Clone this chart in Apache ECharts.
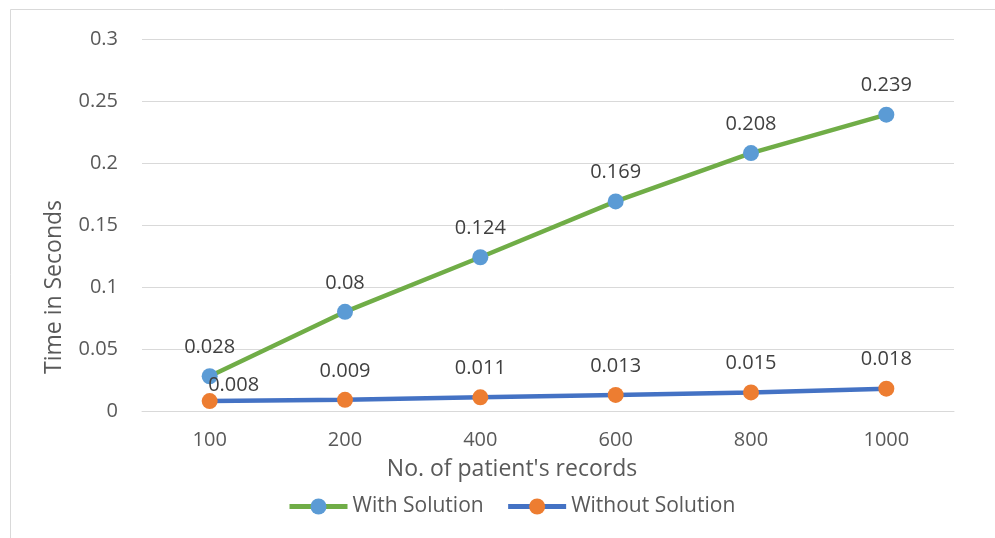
<!DOCTYPE html>
<html>
<head>
<meta charset="utf-8">
<script src="https://cdn.jsdelivr.net/npm/echarts@6/dist/echarts.min.js"></script>
<style>
  html, body { margin: 0; padding: 0; background: #fff; }
  #chart { width: 995px; height: 538px; }
</style>
</head>
<body>
<div id="chart"></div>
<script>
// Record counts on the x axis
const categories = ['100', '200', '400', '600', '800', '1000'];
// Processing time in seconds
const withSolution = [0.028, 0.08, 0.124, 0.169, 0.208, 0.239];
const withoutSolution = [0.008, 0.009, 0.011, 0.013, 0.015, 0.018];

const FONT = '"Open Sans", "Liberation Sans", sans-serif';
const TEXT = '#595959';

const chart = echarts.init(document.getElementById('chart'), null, { renderer: 'canvas' });

const labelStyle = {
  show: true,
  position: 'top',
  distance: 11,
  color: '#404040',
  fontFamily: FONT,
  fontSize: 20
};

// first point of the lower series carries its label nudged down-right
const withoutData = withoutSolution.map((v, i) =>
  i === 0 ? { value: v, label: { offset: [24, 13] } } : v
);

chart.setOption({
  animation: false,
  backgroundColor: '#fff',
  graphic: [{
    type: 'rect',
    shape: { x: 10.5, y: 9.5, width: 1000, height: 540 },
    style: { fill: 'none', stroke: '#d9d9d9', lineWidth: 1 },
    silent: true
  }],
  grid: { left: 142, right: 41, top: 39, bottom: 127 },
  legend: {
    left: 282,
    top: 491,
    itemWidth: 58,
    itemHeight: 20,
    itemGap: 22,
    lineStyle: { width: 5 },
    textStyle: { color: TEXT, fontFamily: FONT, fontSize: 21 },
    data: ['With Solution', 'Without Solution']
  },
  xAxis: {
    type: 'category',
    data: categories,
    boundaryGap: true,
    name: "No. of patient's records",
    nameLocation: 'middle',
    nameGap: 47,
    nameTextStyle: { color: TEXT, fontFamily: FONT, fontSize: 23, padding: [0, 72, 0, 0] },
    axisLine: { show: true, lineStyle: { color: '#d9d9d9', width: 1 } },
    axisTick: { show: false },
    axisLabel: { color: TEXT, fontFamily: FONT, fontSize: 20, margin: 19 }
  },
  yAxis: {
    type: 'value',
    min: 0,
    max: 0.3,
    interval: 0.05,
    name: 'Time in Seconds',
    nameLocation: 'middle',
    nameGap: 76,
    nameTextStyle: { color: TEXT, fontFamily: FONT, fontSize: 23, padding: [0, 124, 0, 0] },
    axisLine: { show: false },
    axisTick: { show: false },
    axisLabel: { color: TEXT, fontFamily: FONT, fontSize: 20, margin: 24 },
    splitLine: { lineStyle: { color: '#d9d9d9', width: 1 } }
  },
  series: [
    {
      name: 'With Solution',
      type: 'line',
      data: withSolution,
      symbol: 'circle',
      symbolSize: 16,
      lineStyle: { color: '#70AD47', width: 4.5 },
      itemStyle: { color: '#5B9BD5' },
      label: labelStyle,
      z: 2
    },
    {
      name: 'Without Solution',
      type: 'line',
      data: withoutData,
      symbol: 'circle',
      symbolSize: 16,
      lineStyle: { color: '#4472C4', width: 4.5 },
      itemStyle: { color: '#ED7D31' },
      label: labelStyle,
      z: 3
    }
  ]
});
</script>
</body>
</html>
